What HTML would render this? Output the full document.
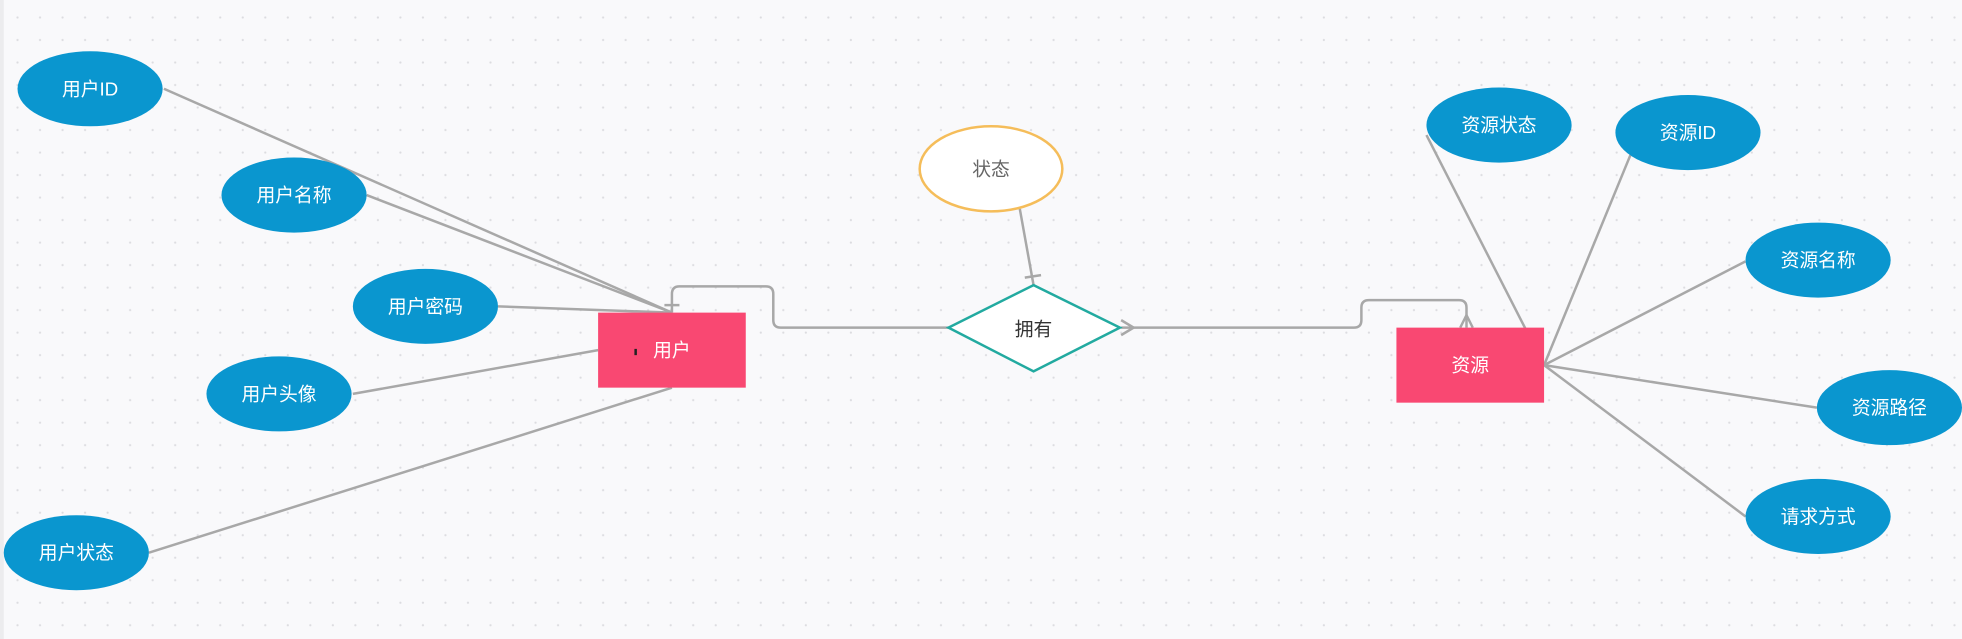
<!DOCTYPE html>
<html><head><meta charset="utf-8"><style>
html,body{margin:0;padding:0;width:1962px;height:639px;overflow:hidden;background:#f9f9fb}
svg{display:block}
text{font-family:"Liberation Sans","Noto Sans CJK SC",sans-serif;font-size:15px;text-anchor:middle;dominant-baseline:central}
</style></head><body>
<svg width="1962" height="639" viewBox="0 0 1568 511" preserveAspectRatio="none">
<defs><pattern id="d" width="18" height="18" patternUnits="userSpaceOnUse"><circle cx="14" cy="14" r="0.9" fill="#dcdce0"/></pattern></defs>
<rect width="1568" height="511" fill="#f9f9fb"/>
<rect width="1568" height="511" fill="url(#d)"/>
<rect x="0" y="0" width="3" height="511" fill="#ececee"/>
<g stroke="#a8a8a8" stroke-width="2" fill="none">
<line x1="131" y1="71" x2="537" y2="250"/>
<line x1="293" y1="156" x2="537" y2="250"/>
<line x1="398" y1="245" x2="537" y2="250"/>
<line x1="282" y1="315" x2="478" y2="280"/>
<line x1="119" y1="442" x2="537" y2="310"/>
<path d="M537 250 V235 Q537 229 543 229 H612 Q618 229 618 235 V256 Q618 262 624 262 H758"/>
<line x1="531" y1="244" x2="543" y2="244"/>
<line x1="815" y1="167" x2="826" y2="228"/>
<line x1="819" y1="222" x2="832" y2="220"/>
<path d="M896 262 H1082 Q1088 262 1088 256 V246 Q1088 240 1094 240 H1166 Q1172 240 1172 246 V262"/>
<path d="M896 256 L906 262 L896 268"/>
<path d="M1167 262 L1172 252 L1177 262"/>
<line x1="1234" y1="292" x2="1140" y2="108"/>
<line x1="1234" y1="292" x2="1303" y2="124"/>
<line x1="1234" y1="292" x2="1395" y2="209"/>
<line x1="1234" y1="292" x2="1452" y2="326"/>
<line x1="1234" y1="292" x2="1395" y2="413"/>
</g>
<g fill="#0a96cf">
<ellipse cx="72" cy="71" rx="58" ry="30"/>
<ellipse cx="235" cy="156" rx="58" ry="30"/>
<ellipse cx="340" cy="245" rx="58" ry="30"/>
<ellipse cx="223" cy="315" rx="58" ry="30"/>
<ellipse cx="61" cy="442" rx="58" ry="30"/>
<ellipse cx="1198" cy="100" rx="58" ry="30"/>
<ellipse cx="1349" cy="106" rx="58" ry="30"/>
<ellipse cx="1453" cy="208" rx="58" ry="30"/>
<ellipse cx="1510" cy="326" rx="58" ry="30"/>
<ellipse cx="1453" cy="413" rx="58" ry="30"/>
</g>
<ellipse cx="792" cy="135" rx="57" ry="34" fill="#fff" stroke="#f5bd5a" stroke-width="2"/>
<rect x="478" y="250" width="118" height="60" fill="#f94872"/>
<rect x="1116" y="262" width="118" height="60" fill="#f94872"/>
<polygon points="826,228 895,262 826,297 758,262" fill="#fff" stroke="#22aaa0" stroke-width="2"/>
<g fill="#fff">
<text x="72" y="71">用户ID</text>
<text x="235" y="156">用户名称</text>
<text x="340" y="245">用户密码</text>
<text x="223" y="315">用户头像</text>
<text x="61" y="442">用户状态</text>
<text x="1198" y="100">资源状态</text>
<text x="1349" y="106">资源ID</text>
<text x="1453" y="208">资源名称</text>
<text x="1510" y="326">资源路径</text>
<text x="1453" y="413">请求方式</text>
<text x="537" y="280">用户</text>
<text x="1175" y="292">资源</text>
</g>
<rect x="507" y="279" width="2" height="5" fill="#222"/>
<text x="792" y="135" fill="#666">状态</text>
<text x="826" y="263" fill="#333">拥有</text>
</svg>
</body></html>
